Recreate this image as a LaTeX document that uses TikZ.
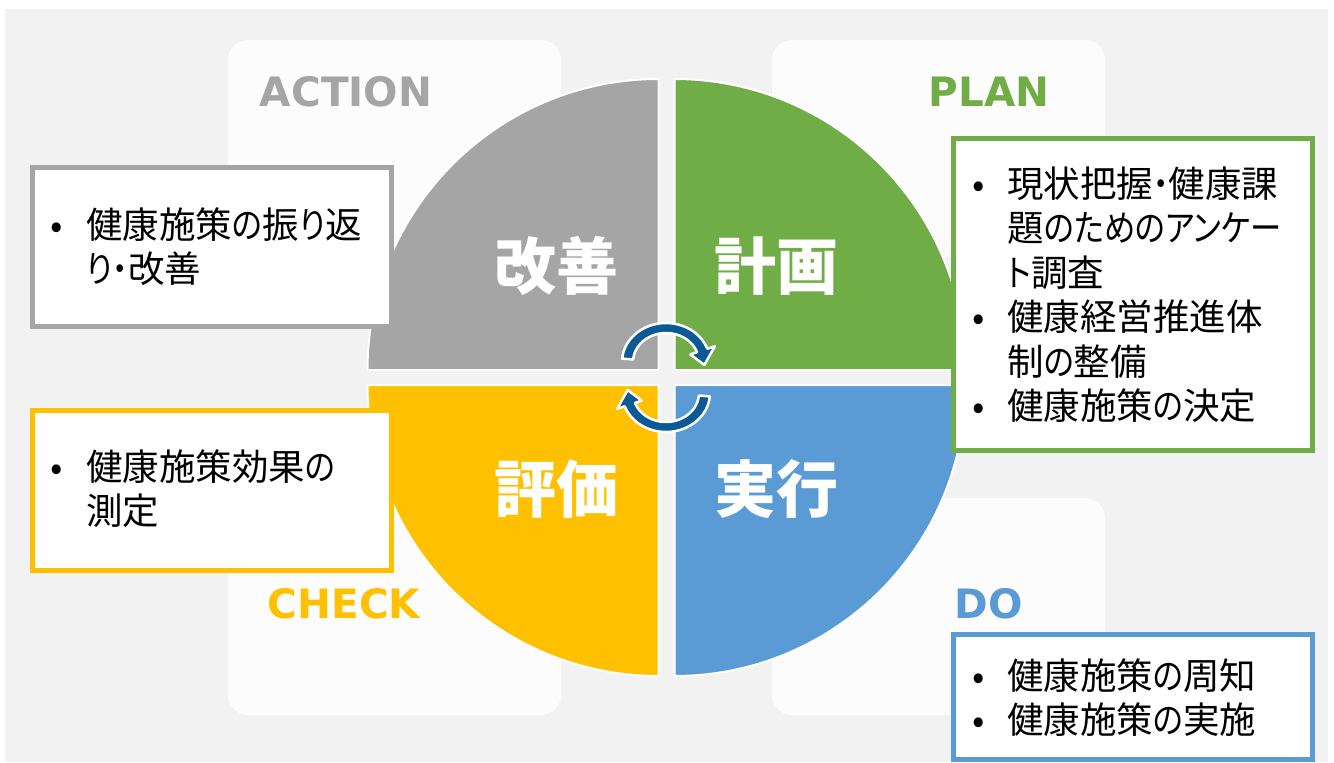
\documentclass[tikz,border=0pt]{standalone}
\usepackage{fontspec}
\usetikzlibrary{calc}
\newfontfamily\jpfont[RawFeature={+palt}]{Noto Sans CJK JP}
\newfontfamily\kn[RawFeature={+palt}, FakeStretch=0.86]{Noto Sans CJK JP}
\newfontfamily\labfont{DejaVu Sans}
\definecolor{bgc}{HTML}{F2F2F2}
\definecolor{panelc}{HTML}{FCFCFC}
\definecolor{actgray}{HTML}{A5A5A5}
\definecolor{plangreen}{HTML}{70AD47}
\definecolor{doblue}{HTML}{5B9BD5}
\definecolor{chkyellow}{HTML}{FFC000}
\definecolor{arrowblue}{HTML}{0B5A96}
\setlength{\parindent}{0pt}
\setlength{\parskip}{0pt}
\newcommand{\bul}{\leavevmode\llap{\makebox[0pt][c]{•}\hspace{29pt}}\rule{0pt}{34pt}}
\tikzset{
  panel/.style={fill=panelc, rounded corners=20pt},
  quad/.style={draw=white, line width=2pt},
  qtext/.style={font=\jpfont\bfseries\fontsize{62}{70}\selectfont, text=white, anchor=base, inner sep=0pt},
  plab/.style={font=\labfont\bfseries\fontsize{40.5}{48}\selectfont, anchor=base, inner sep=0pt},
  infobox/.style={draw, fill=white, line width=5pt, rectangle, inner sep=0pt},
  txt/.style={anchor=north west, inner sep=0pt, text width=330pt, align=left,
    font=\jpfont\fontsize{36.5}{44.5}\selectfont},
  cyc/.style={fill=arrowblue, draw=white, line width=2.5pt, line join=round}
}
\begin{document}
\begin{tikzpicture}[x=1pt, y=-1pt]
\useasboundingbox (0,0) rectangle (1334,763);
\fill[white] (0,0) rectangle (1334,763);
\fill[bgc] (5,9) rectangle (1328,762);
% panels
\fill[panel] (228,40) rectangle (561,257);
\fill[panel] (772,40) rectangle (1105,257);
\fill[panel] (228,498) rectangle (561,715);
\fill[panel] (772,498) rectangle (1105,715);
% labels
\node[plab, text=actgray] (action) at (346,106) {ACTION};
\node[plab, text=plangreen] (plan) at (989,106) {PLAN};
\node[plab, text=chkyellow] (check) at (344,618) {CHECK};
\node[plab, text=doblue] (do) at (989,618) {DO};
% quadrants
\filldraw[quad, fill=actgray] (658.5,370) -- (367.5,370) arc[start angle=180, end angle=270, radius=291] -- cycle;
\filldraw[quad, fill=plangreen] (674.5,370) -- (674.5,79) arc[start angle=270, end angle=360, radius=291] -- cycle;
\filldraw[quad, fill=doblue] (674.5,385) -- (965.5,385) arc[start angle=0, end angle=90, radius=291] -- cycle;
\filldraw[quad, fill=chkyellow] (658.5,385) -- (658.5,676) arc[start angle=90, end angle=180, radius=291] -- cycle;
% quadrant titles
\node[qtext] (kaizen) at (556,289.6) {改善};
\node[qtext] (keikaku) at (776.5,289.6) {計画};
\node[qtext] (hyoka) at (556,512.6) {評価};
\node[qtext] (jikko) at (776.5,512.6) {実行};
% cycle arrows
\coordinate (cu) at (666,362);
\coordinate (cl) at (666,393);
\filldraw[cyc] ($(cu)+(185:44 and 39)$) arc[start angle=185, end angle=340, x radius=44, y radius=39]
  -- ($(cu)+(340:52 and 46)$) -- ($(cu)+(5:38.5 and 34)$) -- ($(cu)+(340:26 and 22)$)
  -- ($(cu)+(340:33 and 29)$) arc[start angle=340, end angle=185, x radius=33, y radius=29] -- cycle;
\filldraw[cyc] ($(cl)+(5:44 and 39)$) arc[start angle=5, end angle=160, x radius=44, y radius=39]
  -- ($(cl)+(160:52 and 46)$) -- ($(cl)+(185:38.5 and 34)$) -- ($(cl)+(160:26 and 22)$)
  -- ($(cl)+(160:33 and 29)$) arc[start angle=160, end angle=5, x radius=33, y radius=29] -- cycle;
% boxes
\node[infobox, draw=actgray, minimum width=359pt, minimum height=158.5pt] (actbox) at (212,246.75) {};
\node[infobox, draw=chkyellow, minimum width=358.5pt, minimum height=160pt] (chkbox) at (211.75,490.5) {};
\node[infobox, draw=plangreen, minimum width=359pt, minimum height=312.5pt] (planbox) at (1133,294.25) {};
\node[infobox, draw=doblue, minimum width=359pt, minimum height=125.5pt] (dobox) at (1133,696.75) {};
% box texts
\node[txt] (acttext) at (86,203.9) {\bul 健康施策{\kn の}振{\kn り}返\\{\kn り・}改善};
\node[txt] (chktext) at (86,445.9) {\bul 健康施策効果{\kn の}\\測定};
\node[txt] (plantext) at (1007,162.9) {\bul 現状把握{\kn ・}健康課\\題{\kn のためのアンケー}\\{\kn ト}調査\\\bul 健康経営推進体\\制{\kn の}整備\\\bul 健康施策{\kn の}決定};
\node[txt] (dotext) at (1007,654.9) {\bul 健康施策{\kn の}周知\\\bul 健康施策{\kn の}実施};
\end{tikzpicture}
\end{document}
